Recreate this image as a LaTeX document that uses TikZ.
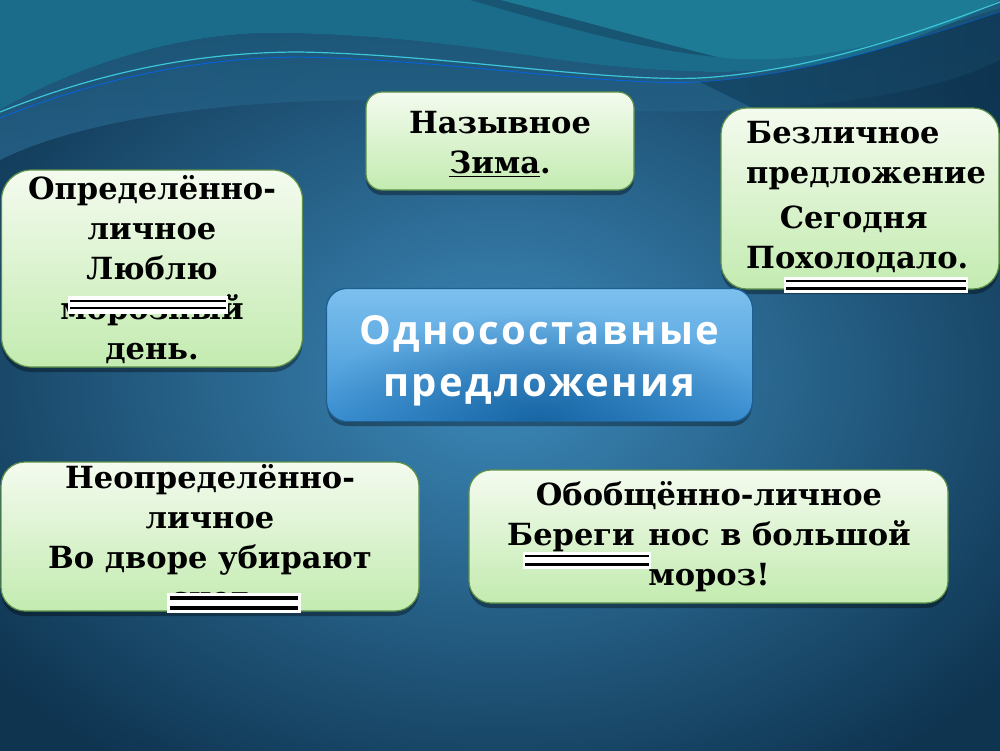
\documentclass[tikz,border=0pt]{standalone}
\usepackage{fontspec}
\setmainfont{DejaVu Serif}
\newfontfamily\titlefont[LetterSpace=6]{Open Sans}
\usetikzlibrary{shadows,fadings}
\definecolor{bgin}{HTML}{3D8ABB}
\definecolor{bgout}{HTML}{0E3450}
\definecolor{teal1}{HTML}{1A6C8A}
\definecolor{teal2}{HTML}{1E7B95}
\definecolor{ribbon}{HTML}{175572}
\definecolor{crest}{HTML}{1B5878}
\definecolor{cyanl}{HTML}{3CC6DA}
\definecolor{gtop}{HTML}{F4FBEF}
\definecolor{gbot}{HTML}{C3EBB0}
\definecolor{gborder}{HTML}{5E9148}
\definecolor{btop}{HTML}{7CC0EE}
\definecolor{bmid}{HTML}{3D92D4}
\definecolor{bdark}{HTML}{14619F}
\definecolor{bborder}{HTML}{1D5F92}
\tikzfading[name=radfade, inner color=transparent!0, outer color=transparent!100]
\tikzset{
  gbox/.style={draw=gborder, line width=1.2pt, top color=gtop, bottom color=gbot,
    drop shadow={shadow xshift=0pt, shadow yshift=-5pt, opacity=0.35, fill=black}},
  txt/.style={font=\bfseries\fontsize{30.5}{40}\selectfont, align=center, inner sep=0pt, text=black},
  ovl/.style={fill=white, draw=none},
  dbl/.style={line width=2.6pt, black}
}
\begin{document}
\begin{tikzpicture}[x=1pt,y=-1pt]
\useasboundingbox (0,0) rectangle (1000,750);
% background
\shade[inner color=bgin, outer color=bgout] (-150,-100) rectangle (1150,850);
% top teal area (above the crest)
\fill[teal1] (0,0) -- (0,110) .. controls (60,75) and (160,35) .. (267,33)
  .. controls (380,33) and (480,48) .. (560,60)
  .. controls (650,72) and (760,80) .. (850,58)
  .. controls (920,40) and (970,15) .. (1000,0) -- cycle;
% top-right lighter area
\fill[teal2] (500,0) .. controls (560,15) and (640,45) .. (717,57)
  .. controls (800,68) and (900,40) .. (1000,8) -- (1000,0) -- cycle;
% dark ribbon
\fill[ribbon] (470,0) .. controls (540,20) and (640,50) .. (717,57)
  .. controls (650,40) and (560,15) .. (500,0) -- cycle;
% dark band under the crest
\shade[top color=crest, bottom color=bgin!55!bgout, opacity=0.8]
  (0,110) .. controls (60,75) and (160,35) .. (267,33)
  .. controls (380,33) and (480,48) .. (560,60)
  .. controls (650,72) and (760,80) .. (850,58)
  .. controls (920,40) and (970,15) .. (1000,0)
  -- (1000,60) .. controls (900,110) and (700,120) .. (500,105)
  .. controls (300,90) and (100,110) .. (0,160) -- cycle;
% cyan lines
\draw[cyanl, line width=1.2pt] (0,112) .. controls (80,80) and (180,52) .. (300,52)
  .. controls (450,55) and (600,82) .. (700,78)
  .. controls (800,72) and (900,40) .. (1000,2);
\draw[blue!60!cyan, line width=0.8pt, opacity=0.8] (0,118) .. controls (80,86) and (180,58) .. (300,57)
  .. controls (450,60) and (600,86) .. (700,82)
  .. controls (800,76) and (900,45) .. (1000,12);
% dark top-right corner
\shade[left color=bgout!60!ribbon, right color=bgout, opacity=0.7]
  (1000,12) .. controls (900,45) and (800,76) .. (700,82) -- (1000,230) -- cycle;

% boxes
\node[gbox, rounded corners=30pt, minimum width=301pt, minimum height=197pt] (b1) at (152,268.5) {};
\node[gbox, rounded corners=16pt, minimum width=268pt, minimum height=98pt] (b2) at (500,141) {};
\node[gbox, rounded corners=26pt, minimum width=278pt, minimum height=181pt] (b3) at (860,198.5) {};
\node[gbox, rounded corners=24pt, minimum width=418pt, minimum height=149pt] (b5) at (210,536.5) {};
\node[gbox, rounded corners=22pt, minimum width=479pt, minimum height=133pt] (b6) at (708.5,536.5) {};
\node[line width=1.2pt, rounded corners=20pt, top color=btop, bottom color=bmid,
  minimum width=425pt, minimum height=132pt,
  drop shadow={shadow xshift=0pt, shadow yshift=-5pt, opacity=0.35, fill=black}] (c) at (539.5,355) {};
\begin{scope}
  \clip[rounded corners=20pt] (c.south west) rectangle (c.north east);
  \fill[bdark, path fading=radfade, opacity=0.9] (c.south) ellipse [x radius=230pt, y radius=110pt];
\end{scope}
\draw[bborder, line width=1.2pt, rounded corners=20pt] (c.south west) rectangle (c.north east);

% texts
\node[txt] (t1) at (152,270) {Определённо-\\личное\\Люблю\\морозный\\день.};
\node[txt] (t2) at (500,144) {Назывное\\\underline{Зима}.};
\node[txt, align=left, anchor=north west] (t3) at (746,121) {Безличное\\предложение\\[5pt]\hspace*{1.1em}Сегодня\\Похолодало.};
\node[txt] (t5) at (210,537) {Неопределённо-\\личное\\Во дворе убирают\\снег};
\node[txt] (t6) at (709,537) {Обобщённо-личное\\Береги\hspace{0.45em}нос в большой\\мороз!};
\node[font=\titlefont\bfseries\fontsize{40}{52}\selectfont, text=white, align=center, inner sep=0pt] (ct) at (539.5,361) {Односоставные\\предложения};

% double-line overlays
\fill[ovl] (68,296) rectangle (228,314);
\draw[dbl, line width=2pt] (70,301) -- (226,301);
\draw[dbl, line width=2pt] (70,308) -- (226,308);
\fill[ovl] (784,277) rectangle (968,293);
\draw[dbl] (786,281) -- (966,281);
\draw[dbl] (786,288.5) -- (966,288.5);
\fill[ovl] (167,593) rectangle (301,613);
\draw[dbl, line width=4pt] (170,598) -- (298,598);
\draw[dbl, line width=4pt] (170,608) -- (298,608);
\fill[ovl] (523,552) rectangle (651,569);
\draw[dbl] (525,556) -- (649,556);
\draw[dbl] (525,564.5) -- (649,564.5);
\end{tikzpicture}
\end{document}
